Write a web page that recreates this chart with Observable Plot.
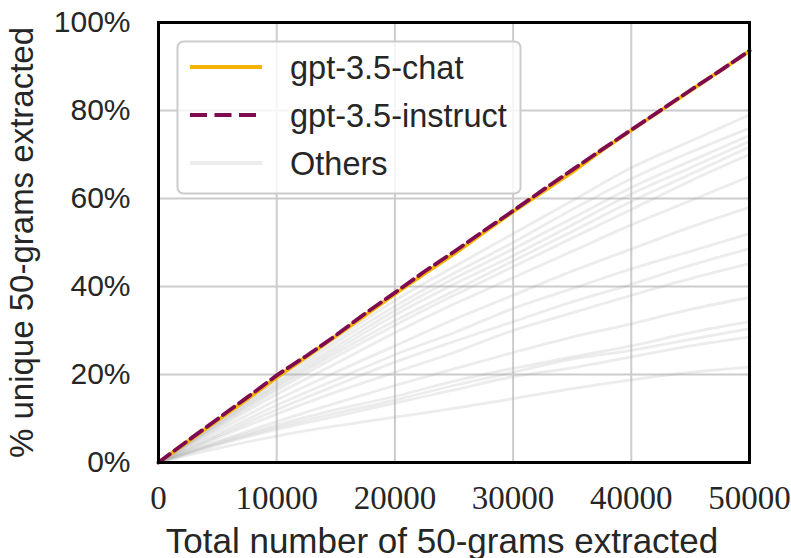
<!DOCTYPE html>
<html><head><meta charset="utf-8">
<script src="https://cdn.jsdelivr.net/npm/d3@7"></script>
<script src="https://cdn.jsdelivr.net/npm/@observablehq/plot@0.6"></script>
<style>body{margin:0;background:#fff;}</style>
</head><body><div id="chart"></div>
<script>
// ---- data ----
const xTicks = [0, 10000, 20000, 30000, 40000, 50000];
const yTicks = [0, 20, 40, 60, 80, 100];

const chatX = [0, 2500, 5000, 7500, 10000, 12500, 15000, 17500, 20000, 22500, 25000, 27500, 30000, 32500, 35000, 37500, 40000, 42500, 45000, 47500, 50000];
const chatY = [0, 4.8, 9.6, 14.4, 19.3, 24.0, 28.7, 33.5, 38.3, 42.9, 47.4, 52.2, 57.0, 61.5, 66.0, 70.9, 75.5, 80.0, 84.5, 89.0, 93.5];

const instructX = [0, 2500, 5000, 7500, 10000, 10600, 12500, 14700, 17500, 20000, 22500, 25000, 27500, 30000, 32500, 35000, 37500, 40000, 42500, 45000, 47500, 50000];
const instructY = [0, 5.0, 9.9, 14.8, 19.8, 20.9, 24.2, 28.3, 33.9, 38.6, 43.4, 47.9, 52.6, 57.2, 61.9, 66.5, 71.1, 75.6, 80.1, 84.6, 89.0, 93.6];

const othersX = [0, 5000, 10000, 15000, 20000, 25000, 30000, 35000, 40000, 45000, 50000];
const othersY = [
  [0, 9.6, 19.2, 28.0, 36.8, 44.5, 52.0, 59.5, 67.0, 73.0, 79.0],
  [0, 9.3, 18.6, 27.2, 35.5, 43.0, 50.0, 57.5, 64.5, 70.5, 76.0],
  [0, 9.0, 18.0, 26.3, 34.5, 41.8, 48.5, 55.5, 62.5, 68.5, 74.3],
  [0, 8.8, 17.5, 25.5, 33.5, 40.5, 47.0, 54.0, 61.0, 67.0, 73.0],
  [0, 8.5, 17.0, 24.8, 32.2, 39.0, 45.8, 52.5, 59.3, 65.5, 71.7],
  [0, 8.2, 16.4, 24.0, 31.2, 38.0, 44.5, 51.0, 57.5, 64.0, 70.0],
  [0, 7.8, 15.5, 22.5, 29.5, 36.0, 42.0, 48.0, 54.0, 59.5, 65.0],
  [0, 7.2, 14.2, 20.5, 26.5, 32.5, 38.0, 43.5, 48.5, 53.5, 58.0],
  [0, 6.5, 13.0, 18.8, 24.5, 29.5, 35.0, 39.5, 44.0, 48.0, 52.0],
  [0, 6.0, 12.0, 17.5, 22.8, 27.5, 32.0, 36.5, 40.5, 44.8, 48.6],
  [0, 5.6, 11.0, 16.0, 20.5, 25.0, 30.0, 34.0, 38.0, 41.8, 45.2],
  [0, 4.8, 9.3, 13.5, 17.5, 21.3, 25.0, 28.5, 31.5, 34.8, 37.5],
  [0, 4.5, 8.5, 12.0, 15.0, 18.5, 21.4, 24.0, 26.5, 29.5, 32.0],
  [0, 4.2, 8.0, 11.2, 14.2, 17.5, 20.5, 23.5, 25.5, 28.0, 30.4],
  [0, 4.0, 7.5, 10.5, 13.5, 16.5, 19.5, 21.5, 24.0, 26.5, 28.5],
  [0, 3.2, 6.0, 8.3, 10.3, 12.3, 14.5, 16.8, 18.8, 20.5, 21.7]
];

const seriesNames = ["gpt-3.5-chat", "gpt-3.5-instruct", "Others"];
const seriesColors = ["#f5b300", "#7e0a4f", "#ececec"];
const xLabel = "Total number of 50-grams extracted";
const yLabel = "% unique 50-grams extracted";

// ---- build tables ----
const chatRows = chatX.map((x, i) => ({x, y: chatY[i]}));
const instructRows = instructX.map((x, i) => ({x, y: instructY[i]}));
const othersRows = othersY.flatMap((ys, k) => othersX.map((x, i) => ({x, y: ys[i], id: k})));

const sans = "'Liberation Sans', Arial, sans-serif";
const serif = "'Liberation Serif', 'DejaVu Serif', serif";

const chart = Plot.plot({
  width: 791, height: 558,
  marginLeft: 158, marginRight: 42, marginTop: 22, marginBottom: 96,
  style: {fontFamily: sans, background: "#fff", color: "#262626", overflow: "visible"},
  x: {domain: [0, 50000]},
  y: {domain: [0, 100]},
  marks: [
    Plot.gridX(xTicks, {stroke: "#cccccc", strokeOpacity: 1, strokeWidth: 2}),
    Plot.gridY(yTicks, {stroke: "#cccccc", strokeOpacity: 1, strokeWidth: 2}),
    Plot.line(othersRows, {x: "x", y: "y", z: "id", stroke: "#a8a8a8", strokeOpacity: 0.22, strokeWidth: 2.8, curve: "monotone-x"}),
    Plot.line(chatRows, {x: "x", y: "y", stroke: seriesColors[0], strokeWidth: 3.8}),
    Plot.line(instructRows, {x: "x", y: "y", stroke: seriesColors[1], strokeWidth: 3.8, strokeDasharray: "14,6"}),
    Plot.frame({stroke: "#000", strokeWidth: 3}),
    Plot.axisX(xTicks, {tickSize: 0, tickPadding: 23, fontSize: 33, fontFamily: serif, fill: "#262626", tickFormat: d => String(d), label: null}),
    Plot.axisY(yTicks, {tickSize: 0, tickPadding: 28, fontSize: 30, fill: "#262626", tickFormat: d => d + "%", label: null}),
    Plot.text([xLabel], {frameAnchor: "bottom", dy: 90, dx: -12, fontSize: 35, fill: "#262626", lineAnchor: "bottom"}),
    Plot.text([yLabel], {frameAnchor: "left", dx: -149, rotate: -90, fontSize: 33, fill: "#262626", lineAnchor: "top", textAnchor: "middle"})
  ]
});

// ---- legend inside the plot ----
const svg = d3.select(chart);
const lg = svg.append("g").attr("font-family", sans).attr("text-anchor", "start");
lg.append("rect").attr("x", 177.5).attr("y", 41.5).attr("width", 343).attr("height", 152)
  .attr("rx", 6).attr("fill", "#fff").attr("fill-opacity", 0.8).attr("stroke", "#cccccc").attr("stroke-width", 2);
const rowsY = [67, 115, 163];
seriesNames.forEach((name, i) => {
  const line = lg.append("line").attr("x1", 190).attr("x2", 262).attr("y1", rowsY[i]).attr("y2", rowsY[i])
    .attr("stroke", seriesColors[i]).attr("stroke-width", 3.8);
  if (i === 1) line.attr("stroke-dasharray", "17,7.5");
  lg.append("text").attr("x", 290).attr("y", rowsY[i] + 11.5).attr("text-anchor", "start")
    .attr("font-size", 32.5).attr("fill", "#262626").text(name);
});

document.getElementById("chart").appendChild(chart);
</script>
</body></html>
